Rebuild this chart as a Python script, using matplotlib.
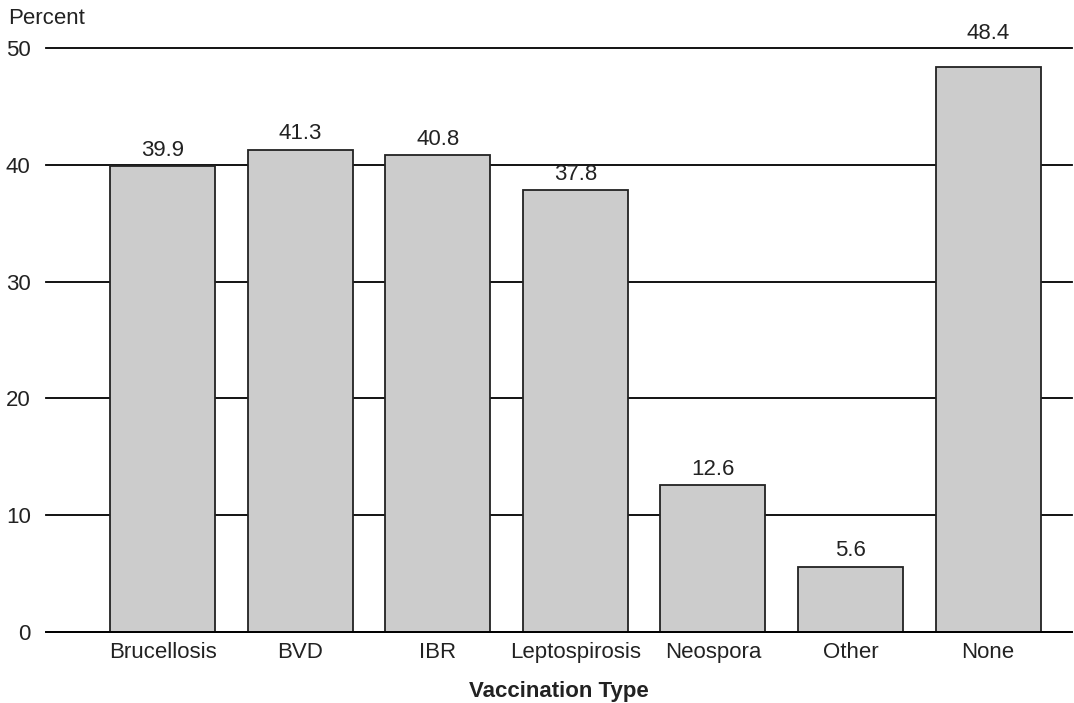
import matplotlib
matplotlib.use("Agg")
import matplotlib.pyplot as plt

# datos del gráfico
categorias = ["Brucellosis", "BVD", "IBR", "Leptospirosis", "Neospora", "Other", "None"]
porcentajes = [39.9, 41.3, 40.8, 37.8, 12.6, 5.6, 48.4]
etiquetas = ["39.9", "41.3", "40.8", "37.8", "12.6", "5.6", "48.4"]
ticks_y = [0, 10, 20, 30, 40, 50]

plt.rcParams['font.family'] = ['Liberation Sans Narrow', 'Liberation Sans', 'DejaVu Sans']

fig = plt.figure(figsize=(10.74, 7.03), dpi=100)
ax = fig.add_axes([46/1074, 1 - 632/703, (1072 - 46)/1074, (632 - 48)/703])

x = list(range(len(categorias)))
ax.set_axisbelow(True)
ax.bar(x, porcentajes, width=0.764, color='#cccccc', edgecolor='#222222', linewidth=1.3, zorder=2)

# valores sobre cada barra (si choca con la línea de 50, va por encima)
for xi, v, t in zip(x, porcentajes, etiquetas):
    y_txt = v + 0.45
    if y_txt + 1.8 > 50:
        y_txt = 50.3
    ax.text(xi, y_txt, t, ha='center', va='bottom', fontsize=16, color='#222222', clip_on=False)

ax.set_ylim(0, 50)
ax.set_xlim(-0.847, 6.61)
ax.set_yticks(ticks_y)
ax.set_xticks(x)
ax.set_xticklabels(categorias)
ax.yaxis.grid(True, color='black', linewidth=1.3)
for linea in ax.yaxis.get_gridlines():
    linea.set_clip_on(False)
ax.tick_params(axis='both', length=0, labelsize=16, colors='#222222')
ax.tick_params(axis='y', pad=11)
ax.tick_params(axis='x', pad=7)

for s in ['top', 'right', 'left']:
    ax.spines[s].set_visible(False)
ax.spines['bottom'].set_linewidth(1.3)

ax.set_xlabel("Vaccination Type", fontsize=16, fontweight='bold', color='#222222', labelpad=13)
fig.text(8/1074, 1 - 19/703, "Percent", fontsize=16, va='center', ha='left', color='#222222')

fig.savefig("out.png", dpi=100)
